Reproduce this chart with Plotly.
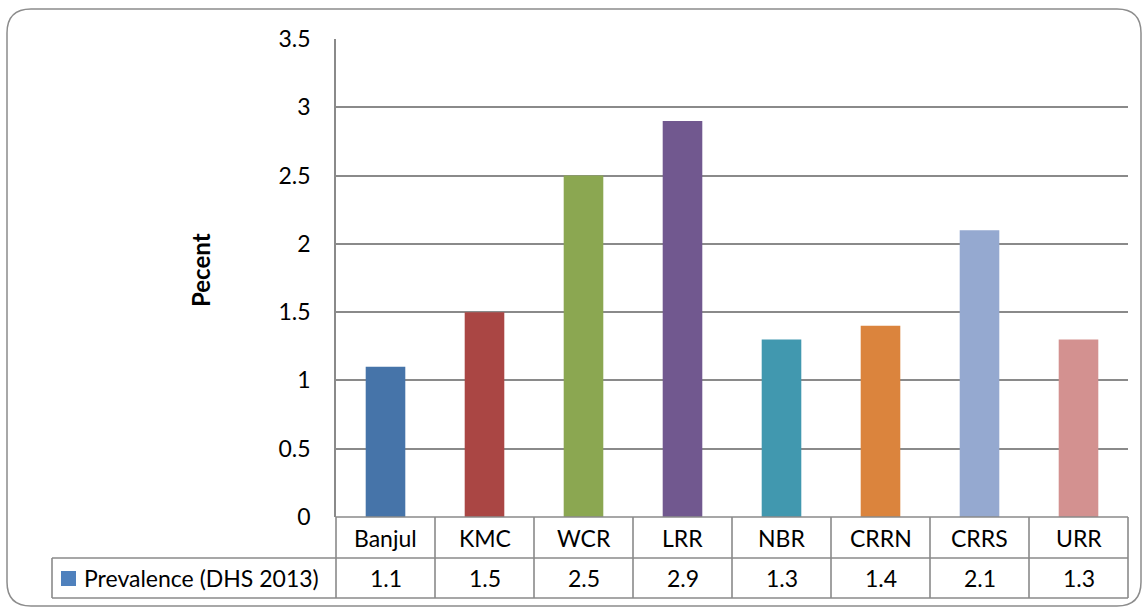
import plotly.graph_objects as go

# Regional prevalence data
categories = ["Banjul", "KMC", "WCR", "LRR", "NBR", "CRRN", "CRRS", "URR"]
values = [1.1, 1.5, 2.5, 2.9, 1.3, 1.4, 2.1, 1.3]
series_name = "Prevalence (DHS 2013)"
y_ticks = [0, 0.5, 1, 1.5, 2, 2.5, 3, 3.5]
y_tick_text = ["0", "0.5", "1", "1.5", "2", "2.5", "3", "3.5"]
bar_colors = ["#4674A9", "#AA4644", "#8BA751", "#71588F",
              "#4198AF", "#DB843D", "#95A9D0", "#D39190"]
legend_key_color = "#4F81BD"

W, H = 1142, 609
L, R, T, B = 336, 1128, 39, 517  # plot area in pixels
FONT = "Lato"
FS = 23
GRID = "#8A8A8A"


def px2x(px):
    return (px - L) / (R - L)


def px2y(py):
    return (B - py) / (B - T)


fig = go.Figure()
fig.add_trace(go.Bar(
    x=categories, y=values, marker=dict(color=bar_colors, line=dict(width=0)),
    name=series_name, showlegend=False, hoverinfo="x+y",
))

shapes = []


def line(x0, y0, x1, y1, width=1.6, color=GRID):
    shapes.append(dict(type="line", xref="paper", yref="paper",
                       x0=px2x(x0), y0=px2y(y0), x1=px2x(x1), y1=px2y(y1),
                       line=dict(color=color, width=width)))


# data table grid
row1, row2, row3 = 517, 558, 598
n = len(categories)
col_w = (R - L) / n
line(L, row1, R, row1)
line(52, row2, R, row2)
line(52, row3, R, row3)
line(52, row2, 52, row3)
for k in range(n + 1):
    xk = L + k * col_w
    line(xk, row1, xk, row3)

# rounded chart border
bx0, by0, bx1, by1, rad = 7, 9, 1141, 606, 24
path = (
    f"M {px2x(bx0 + rad)},{px2y(by0)} L {px2x(bx1 - rad)},{px2y(by0)} "
    f"Q {px2x(bx1)},{px2y(by0)} {px2x(bx1)},{px2y(by0 + rad)} "
    f"L {px2x(bx1)},{px2y(by1 - rad)} "
    f"Q {px2x(bx1)},{px2y(by1)} {px2x(bx1 - rad)},{px2y(by1)} "
    f"L {px2x(bx0 + rad)},{px2y(by1)} "
    f"Q {px2x(bx0)},{px2y(by1)} {px2x(bx0)},{px2y(by1 - rad)} "
    f"L {px2x(bx0)},{px2y(by0 + rad)} "
    f"Q {px2x(bx0)},{px2y(by0)} {px2x(bx0 + rad)},{px2y(by0)} Z"
)
shapes.append(dict(type="path", xref="paper", yref="paper", path=path,
                   line=dict(color="#8C8C8C", width=1.5)))

# legend key square in table
shapes.append(dict(type="rect", xref="paper", yref="paper",
                   x0=px2x(61), x1=px2x(76), y0=px2y(571), y1=px2y(586),
                   fillcolor=legend_key_color, line=dict(width=0)))

annotations = []
for c, v in zip(categories, values):
    annotations.append(dict(x=c, xref="x", y=px2y((row1 + row2) / 2), yref="paper",
                            text=c, showarrow=False, xanchor="center", yanchor="middle",
                            font=dict(family=FONT, size=FS, color="#000")))
    annotations.append(dict(x=c, xref="x", y=px2y((row2 + row3) / 2), yref="paper",
                            text=f"{v:g}", showarrow=False, xanchor="center", yanchor="middle",
                            font=dict(family=FONT, size=FS, color="#000")))
annotations.append(dict(x=px2x(82), xref="paper", y=px2y((row2 + row3) / 2), yref="paper",
                        text=series_name, showarrow=False, xanchor="left", yanchor="middle",
                        font=dict(family=FONT, size=FS, color="#000")))
annotations.append(dict(x=px2x(200), xref="paper", y=px2y(270), yref="paper",
                        text="<b>Pecent</b>", textangle=-90, showarrow=False,
                        xanchor="center", yanchor="middle",
                        font=dict(family=FONT, size=24, color="#000")))

fig.update_layout(
    width=W, height=H,
    margin=dict(l=L, r=W - R, t=T, b=H - B),
    paper_bgcolor="white", plot_bgcolor="white",
    bargap=0.6,
    shapes=shapes, annotations=annotations,
    font=dict(family=FONT, size=FS, color="#000"),
    xaxis=dict(type="category", range=[-0.5, n - 0.5], showticklabels=False,
               showgrid=False, zeroline=False, showline=False, fixedrange=True),
    yaxis=dict(range=[0, 3.5], tickvals=y_ticks, ticktext=y_tick_text,
               showgrid=True, gridcolor=GRID, gridwidth=1.6,
               zeroline=False, showline=True, linecolor=GRID, linewidth=1.6,
               ticks="outside", ticklen=0, ticklabelstandoff=19,
               tickfont=dict(family=FONT, size=FS, color="#000"), fixedrange=True),
)

fig.write_html("out.html")
